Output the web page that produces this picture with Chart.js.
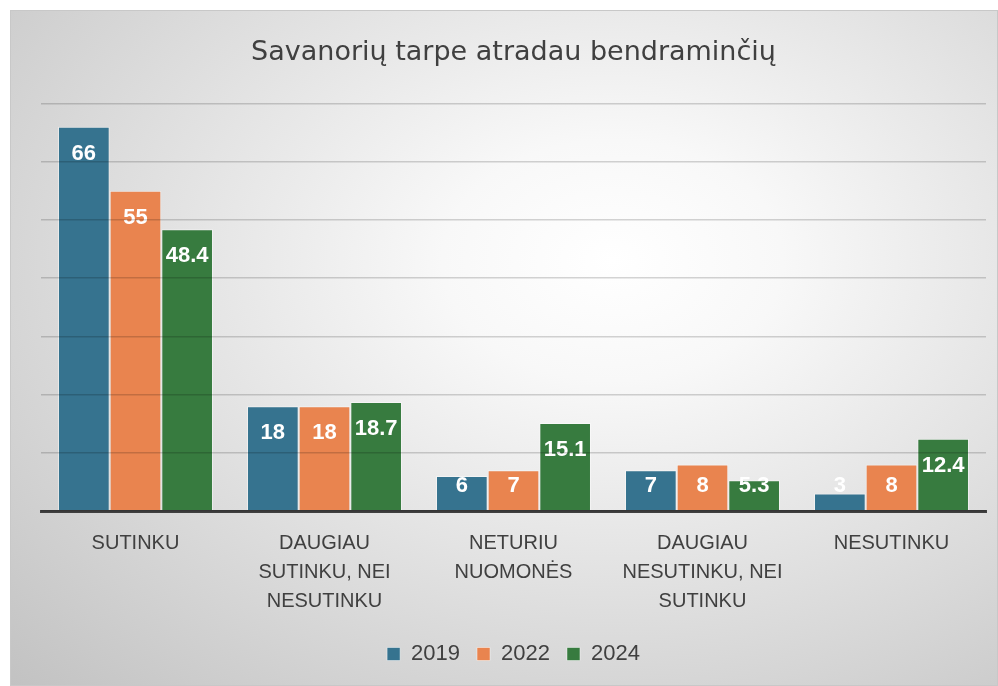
<!DOCTYPE html>
<html>
<head>
<meta charset="utf-8">
<script src="https://cdn.jsdelivr.net/npm/chart.js@4"></script>
<style>
  html, body { margin: 0; padding: 0; background: #fff; }
  #box {
    position: absolute; left: 10px; top: 10px; width: 986px; height: 674px;
    border: 1px solid #c8c8c8;
    background: radial-gradient(ellipse at 61% 37%, #ffffff 0%, #f8f8f8 20%, #c2c2c2 100%);
  }
  canvas { display: block; }
</style>
</head>
<body>
<div id="box"><canvas id="chart" width="986" height="674"></canvas></div>
<script>
const categories = [
  ['SUTINKU'],
  ['DAUGIAU', 'SUTINKU, NEI', 'NESUTINKU'],
  ['NETURIU', 'NUOMONĖS'],
  ['DAUGIAU', 'NESUTINKU, NEI', 'SUTINKU'],
  ['NESUTINKU']
];
const years = ['2019', '2022', '2024'];
const values2019 = [66, 18, 6, 7, 3];
const values2022 = [55, 18, 7, 8, 8];
const values2024 = [48.4, 18.7, 15.1, 5.3, 12.4];
const colors = ['#36738f', '#e9844f', '#377b3f'];

const FONT = '"Liberation Sans", Arial, sans-serif';

// white value labels near the top of each bar
const valueLabels = {
  id: 'valueLabels',
  afterDatasetsDraw(chart) {
    const ctx = chart.ctx;
    ctx.save();
    ctx.fillStyle = '#ffffff';
    ctx.font = 'bold 22px ' + FONT;
    ctx.textAlign = 'center';
    ctx.textBaseline = 'middle';
    chart.data.datasets.forEach((ds, i) => {
      chart.getDatasetMeta(i).data.forEach((bar, j) => {
        const y = Math.min(bar.y + 27, bar.base - 24);
        ctx.fillText(String(ds.data[j]), bar.x, y);
      });
    });
    ctx.restore();
  }
};

new Chart(document.getElementById('chart'), {
  type: 'bar',
  data: {
    labels: categories,
    datasets: [
      { label: years[0], data: values2019, backgroundColor: colors[0] },
      { label: years[1], data: values2022, backgroundColor: colors[1] },
      { label: years[2], data: values2024, backgroundColor: colors[2] }
    ].map(d => Object.assign(d, {
      borderColor: 'rgba(255,255,255,0.45)',
      borderWidth: 1,
      categoryPercentage: 0.82,
      barPercentage: 1
    }))
  },
  options: {
    responsive: false,
    animation: false,
    layout: { padding: { left: 30, right: 11, top: 0, bottom: 10 } },
    plugins: {
      title: {
        display: true,
        text: 'Savanorių tarpe atradau bendraminčių',
        color: '#404040',
        font: { family: '"DejaVu Sans", sans-serif', size: 27, weight: 'normal' },
        padding: { top: 26, bottom: 34 }
      },
      legend: {
        position: 'bottom',
        labels: {
          color: '#404040',
          font: { family: FONT, size: 22 },
          boxWidth: 13,
          boxHeight: 13,
          padding: 17
        }
      },
      tooltip: { enabled: false }
    },
    scales: {
      x: {
        grid: { display: false },
        border: { display: true, color: '#404040', width: 3, z: 1 },
        ticks: {
          color: '#404040',
          font: { family: FONT, size: 20, lineHeight: 1.45 },
          padding: 10,
          maxRotation: 0,
          autoSkip: false
        }
      },
      y: {
        min: 0,
        max: 70,
        ticks: { display: false, stepSize: 10 },
        border: { display: false },
        grid: { color: 'rgba(0,0,0,0.17)', lineWidth: 1.5, z: 1, drawTicks: false }
      }
    }
  },
  plugins: [valueLabels]
});
</script>
</body>
</html>
